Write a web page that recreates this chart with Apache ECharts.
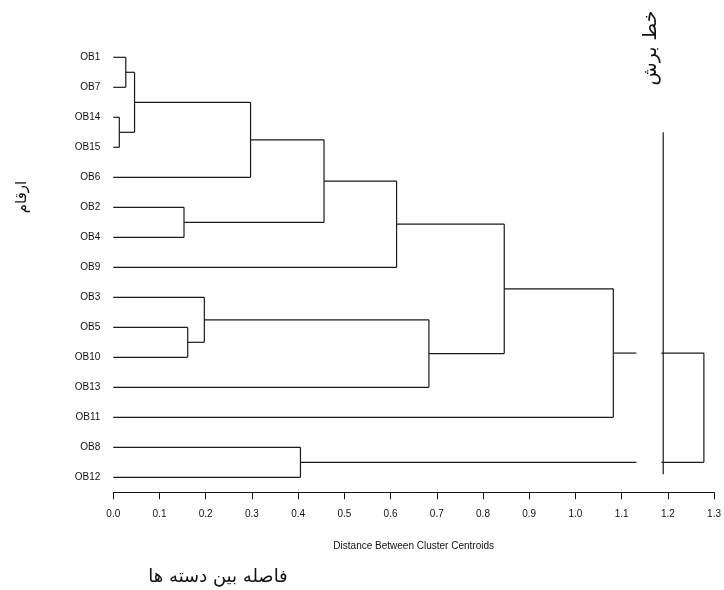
<!DOCTYPE html>
<html>
<head>
<meta charset="utf-8">
<script src="https://cdn.jsdelivr.net/npm/echarts@6/dist/echarts.min.js"></script>
<style>
html,body{margin:0;padding:0;background:#fff;}
#main{width:724px;height:590px;}
</style>
</head>
<body>
<div id="main"></div>
<script>
// ---- data ----
var leaves = ['OB1','OB7','OB14','OB15','OB6','OB2','OB4','OB9','OB3','OB5','OB10','OB13','OB11','OB8','OB12'];
// merges: [childA, childB, distance]; clusters referenced as 'C1', 'C2', ...
var mergeA = ['OB1','OB14','C1','C3','OB2','C4','C6','OB5','OB3','C9','C7','C11','OB8','C12'];
var mergeB = ['OB7','OB15','C2','OB6','OB4','C5','OB9','OB10','C8','OB13','C10','OB11','OB12','C13'];
var mergeDist = [0.027,0.013,0.046,0.297,0.153,0.456,0.613,0.161,0.197,0.683,0.846,1.082,0.405,1.278];
var xTicks = ['0.0','0.1','0.2','0.3','0.4','0.5','0.6','0.7','0.8','0.9','1.0','1.1','1.2','1.3'];
var breakGap = [1.132, 1.186];      // broken part of the last branches
var cutValue = 1.19;                 // cut line distance
var cutSpan = [2.5, 13.9];           // cut line extent in leaf units

// ---- build segments ----
var nodes = {};
leaves.forEach(function(n, i){ nodes[n] = {y: i, h: 0}; });
var segs = [];
function hseg(x1, x2, y, split){
  if (split && x1 < breakGap[0] && x2 > breakGap[1]) {
    segs.push([x1, y, breakGap[0], y]);
    segs.push([breakGap[1], y, x2, y]);
  } else segs.push([x1, y, x2, y]);
}
mergeA.forEach(function(a, k){
  var b = mergeB[k], h = mergeDist[k];
  var na = nodes[a], nb = nodes[b];
  var last = (k === mergeA.length - 1);
  hseg(na.h, h, na.y, last);
  hseg(nb.h, h, nb.y, last);
  segs.push([h, na.y, h, nb.y]);
  nodes['C' + (k + 1)] = {y: (na.y + nb.y) / 2, h: h};
});
segs.push([cutValue, cutSpan[0], cutValue, cutSpan[1]]);

var narrow = "'Liberation Sans Narrow', 'Liberation Sans', Arial, sans-serif";
var chart = echarts.init(document.getElementById('main'));
chart.setOption({
  backgroundColor: '#ffffff',
  animation: false,
  grid: {left: 113.3, right: 8.8, top: 42.3, bottom: 97.7},
  xAxis: {
    type: 'value', min: 0, max: 1.3, interval: 0.1, position: 'bottom',
    name: 'Distance Between Cluster Centroids',
    nameLocation: 'middle', nameGap: 49,
    nameTextStyle: {fontFamily: narrow, fontSize: 10, color: '#111'},
    axisLine: {show: true, onZero: false, lineStyle: {color: '#111', width: 1}},
    axisTick: {show: true, length: 7, lineStyle: {color: '#111'}},
    axisLabel: {
      margin: 17, fontFamily: narrow, fontSize: 10, color: '#111',
      formatter: function(v){ return xTicks[Math.round(v * 10)]; }
    },
    splitLine: {show: false}
  },
  yAxis: [{
    type: 'category', data: leaves, inverse: true,
    axisLine: {show: false}, axisTick: {show: false}, splitLine: {show: false},
    axisLabel: {margin: 13, fontFamily: narrow, fontSize: 10, color: '#111'}
  }, {
    type: 'value', show: false, min: -0.5, max: 14.5, inverse: true,
    axisLine: {onZero: false},
    splitLine: {show: false}
  }],
  series: [{
    type: 'custom',
    xAxisIndex: 0, yAxisIndex: 1,
    data: segs,
    encode: {x: [0, 2], y: [1, 3]},
    clip: false,
    renderItem: function(params, api){
      var p1 = api.coord([api.value(0), api.value(1)]);
      var p2 = api.coord([api.value(2), api.value(3)]);
      return {
        type: 'line',
        shape: {x1: p1[0], y1: p1[1], x2: p2[0], y2: p2[1]},
        style: {stroke: '#1a1a1a', lineWidth: 1.2}
      };
    }
  }],
  graphic: [
    {type: 'text', x: 218, y: 577, style: {text: 'فاصله بین دسته ها', font: "18px 'DejaVu Sans'", fill: '#111', align: 'center', verticalAlign: 'middle'}},
    {type: 'text', x: 22, y: 197, rotation: Math.PI / 2, style: {text: 'ارقام', font: "15px 'DejaVu Sans'", fill: '#111', align: 'center', verticalAlign: 'middle'}},
    {type: 'text', x: 651, y: 48, rotation: Math.PI / 2, style: {text: 'خط برش', font: "19px 'DejaVu Sans'", fill: '#111', align: 'center', verticalAlign: 'middle'}}
  ]
});
</script>
</body>
</html>
